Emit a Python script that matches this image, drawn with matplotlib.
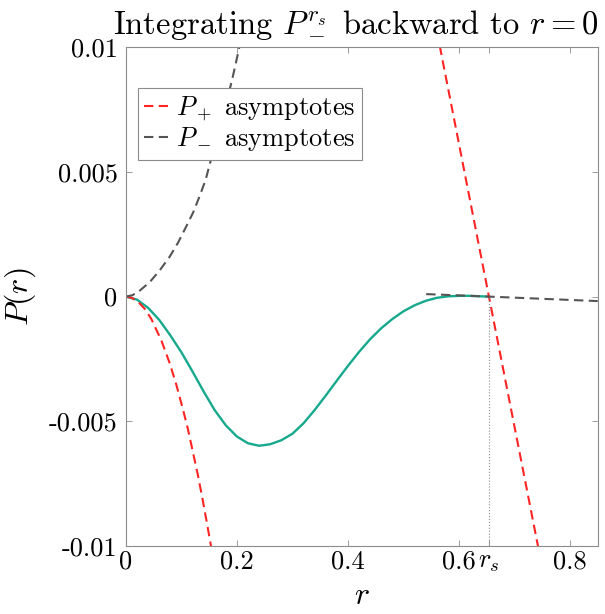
import numpy as np
import matplotlib.pyplot as plt

plt.rcParams['font.family'] = 'serif'
plt.rcParams['font.serif'] = ['cmr10']
plt.rcParams['mathtext.fontset'] = 'cm'
plt.rcParams['axes.unicode_minus'] = False

r_s = 0.654

# solution integrated backward from r_s
r_sol = [0.0, 0.02, 0.04, 0.06, 0.08, 0.10, 0.12, 0.14, 0.16, 0.18, 0.20, 0.22,
         0.24, 0.26, 0.28, 0.30, 0.32, 0.34, 0.36, 0.38, 0.40, 0.42, 0.44, 0.46,
         0.48, 0.50, 0.52, 0.54, 0.56, 0.58, 0.60, 0.62, 0.64, 0.654]
P_sol = [0.0, -0.00012, -0.00045, -0.00093, -0.00155, -0.00223, -0.00300, -0.00380,
         -0.00455, -0.00516, -0.00561, -0.00588, -0.00598, -0.00592, -0.00576,
         -0.00550, -0.00508, -0.00455, -0.00397, -0.00337, -0.00278, -0.00222,
         -0.00171, -0.00127, -0.00090, -0.00059, -0.00035, -0.00017, -0.00005,
         0.00001, 0.00003, 0.00003, 0.00001, 0.0]

# P+ asymptote near r = 0
r_plus0 = [0.0, 0.011, 0.022, 0.034, 0.046, 0.064, 0.079, 0.091, 0.103, 0.112,
           0.121, 0.130, 0.138, 0.145, 0.153, 0.16]
P_plus0 = [0.0, -0.00005, -0.00021, -0.00049, -0.00090, -0.00176, -0.00267,
           -0.00354, -0.00453, -0.00533, -0.00625, -0.00718, -0.00810, -0.00895,
           -0.00995, -0.01090]

# P+ asymptote near r_s
r_plus1 = [0.55, 0.654, 0.76]
P_plus1 = [0.0118, 0.0, -0.0120]

# P- asymptote near r = 0
r_minus0 = [0.0, 0.011, 0.022, 0.043, 0.061, 0.079, 0.094, 0.109, 0.121, 0.133,
            0.144, 0.151, 0.165, 0.180, 0.193, 0.202, 0.21]
P_minus0 = [0.0, 0.00005, 0.00018, 0.00058, 0.00105, 0.00160, 0.00216, 0.00282,
            0.00336, 0.00403, 0.00470, 0.00530, 0.00640, 0.00765, 0.00885,
            0.00975, 0.01060]

# P- asymptote near r_s
r_minus1 = [0.541, 0.654, 0.85]
P_minus1 = [0.00010, 0.0, -0.00018]

xticks = [0, 0.2, 0.4, 0.6, r_s, 0.8]
xticklabels = ['0', '0.2', '0.4', '0.6', '$r_s$', '0.8']
yticks = [-0.01, -0.005, 0, 0.005, 0.01]
yticklabels = ['-0.01', '-0.005', '0', '0.005', '0.01']

red = '#ff2424'
grey = '#555555'
green = '#16a98c'

fig = plt.figure(figsize=(6.05, 6.14), dpi=100)
ax = fig.add_axes([0.208, 0.1107, 0.780, 0.8125])

ax.plot(r_sol, P_sol, color=green, lw=1.7)
ax.plot(r_plus0, P_plus0, '--', color=red, lw=1.5, dashes=(4.5, 2.6), label='$P_+$ asymptotes')
ax.plot(r_plus1, P_plus1, '--', color=red, lw=1.5, dashes=(4.5, 2.6))
ax.plot(r_minus0, P_minus0, '--', color=grey, lw=1.5, dashes=(4.5, 2.6), label='$P_-$ asymptotes')
ax.plot(r_minus1, P_minus1, '--', color=grey, lw=1.5, dashes=(4.5, 2.6))
ax.plot([r_s, r_s], [-0.01, 0], ':', color='#8a8a8a', lw=0.8)

ax.set_xlim(0, 0.85)
ax.set_ylim(-0.01, 0.01)
ax.set_xticks(xticks)
ax.set_xticklabels(xticklabels)
ax.set_yticks(yticks)
ax.set_yticklabels(yticklabels)
ax.tick_params(direction='in', top=True, right=True, length=4, width=0.6,
               color='#8c8c8c', labelsize=19)
ax.tick_params(axis='x', pad=3)
ax.tick_params(axis='y', pad=6)
for s in ax.spines.values():
    s.set_color('#8c8c8c')
    s.set_linewidth(0.8)

ax.set_title('Integrating $P_-^{r_s}$ backward to $r=0$', fontsize=23.5, pad=11, x=0.487)
ax.set_xlabel('$r$', fontsize=23, labelpad=6)
ax.set_ylabel('$P(r)$', fontsize=23, labelpad=8)

leg = ax.legend(loc='upper left', bbox_to_anchor=(0.025, 0.918), borderaxespad=0,
                fontsize=19, handlelength=0.9, handletextpad=0.3, borderpad=0.25,
                labelspacing=0.1, fancybox=False, framealpha=1, edgecolor='#8c8c8c')
leg.get_frame().set_linewidth(0.8)

fig.savefig('out.png', dpi=100)
